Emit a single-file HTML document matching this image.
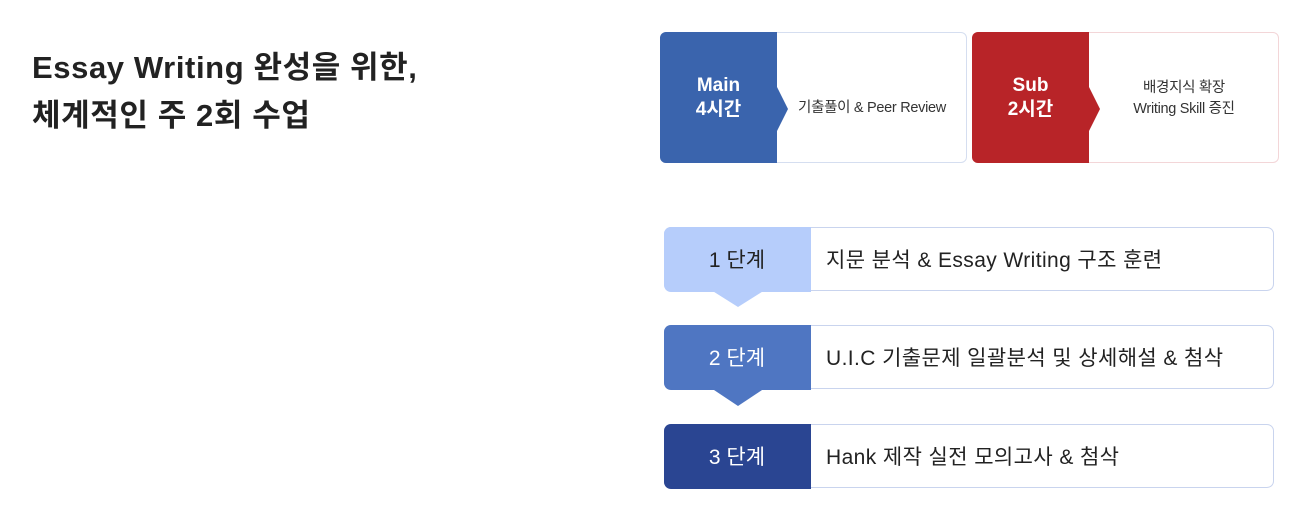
<!DOCTYPE html>
<html><head><meta charset="utf-8"><style>
body{margin:0;width:1302px;height:513px;background:#fff;position:relative;overflow:hidden;font-family:"Liberation Sans","Noto Sans CJK KR",sans-serif;color:#222}
.t{position:absolute;left:32px;font-size:31px;font-weight:bold;letter-spacing:0.6px}
.card{position:absolute;top:32px;height:131px;width:307px;border-radius:6px;background:#fff;box-sizing:border-box}
.card .l{position:absolute;left:0;top:0;bottom:0;width:117px;border-radius:6px 0 0 6px;color:#fff;font-weight:bold;font-size:19px;line-height:24px;display:flex;align-items:center;justify-content:center;text-align:center}
.card .tri{position:absolute;left:116px;top:54px;width:0;height:0;border-top:22px solid transparent;border-bottom:22px solid transparent}
.card .r{position:absolute;left:117px;right:0;top:2px;bottom:0;display:flex;align-items:center;justify-content:center;text-align:center;font-size:14.5px;line-height:21px;color:#333;letter-spacing:-0.3px}
.step{position:absolute;left:664px;width:610px;height:64px;border:1.5px solid #c9d4ee;border-radius:7px;box-sizing:border-box;background:#fff}
.step .l{position:absolute;left:-1.5px;top:-1.5px;bottom:-1.5px;width:147px;border-radius:7px 0 0 7px;display:flex;align-items:center;justify-content:center;font-size:21px}
.step .r{position:absolute;left:161px;top:0;bottom:0;display:flex;align-items:center;font-size:21px;color:#222;letter-spacing:0.4px}
.ptr{position:absolute;left:711px;width:0;height:0;border-left:27px solid transparent;border-right:27px solid transparent}
</style></head><body>
<div class="t" style="top:42px">Essay Writing 완성을 위한,</div>
<div class="t" style="top:90px">체계적인 주 2회 수업</div>

<div class="card" style="left:660px;border:1px solid #d5def0">
<div class="l" style="background:#3a64ad;left:-1px;top:-1px;bottom:-1px">Main<br>4시간</div>
<div class="tri" style="border-left:11px solid #3a64ad"></div>
<div class="r" style="top:22px">기출풀이 &amp; Peer Review</div></div>

<div class="card" style="left:972px;border:1px solid #f3d6d8">
<div class="l" style="background:#b82428;left:-1px;top:-1px;bottom:-1px">Sub<br>2시간</div>
<div class="tri" style="border-left:11px solid #b82428"></div>
<div class="r">배경지식 확장<br>Writing Skill 증진</div></div>

<div class="step" style="top:227px"><div class="l" style="background:#b6cdfb;color:#222">1 단계</div><div class="r">지문 분석 &amp; Essay Writing 구조 훈련</div></div>
<div class="ptr" style="top:290px;border-top:17px solid #b6cdfb"></div>
<div class="step" style="top:325px"><div class="l" style="background:#4f76c2;color:#fff">2 단계</div><div class="r">U.I.C 기출문제 일괄분석 및 상세해설 &amp; 첨삭</div></div>
<div class="ptr" style="top:388px;border-top:18px solid #4f76c2"></div>
<div class="step" style="top:424px"><div class="l" style="background:#2a4592;color:#fff">3 단계</div><div class="r">Hank 제작 실전 모의고사 &amp; 첨삭</div></div>
</body></html>
